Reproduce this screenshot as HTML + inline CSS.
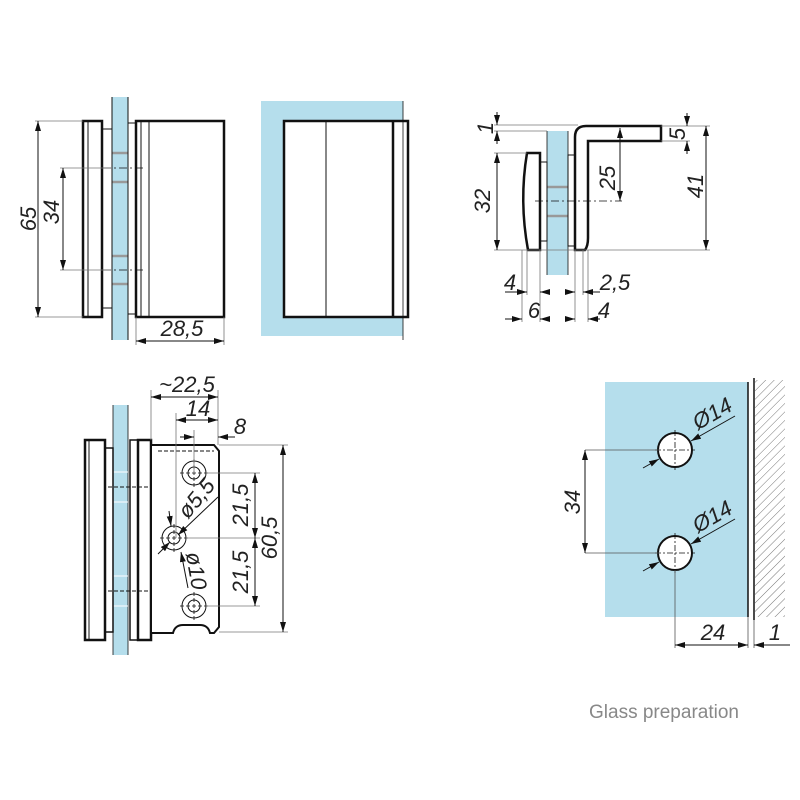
<!DOCTYPE html>
<html><head><meta charset="utf-8"><style>body{margin:0;background:#fff}svg{display:block}text{font-family:"Liberation Sans",sans-serif;font-style:italic;fill:#222}</style></head><body>
<svg width="800" height="800" viewBox="0 0 800 800" xmlns="http://www.w3.org/2000/svg">
<defs>
<marker id="a" viewBox="0 0 10 6" refX="10" refY="3" markerWidth="10" markerHeight="6" orient="auto-start-reverse" markerUnits="userSpaceOnUse"><path d="M0,0 L10,3 L0,6 z" fill="#111"/></marker>
<pattern id="h" width="6" height="6" patternUnits="userSpaceOnUse" patternTransform="rotate(45)"><line x1="0" y1="0" x2="0" y2="6" stroke="#777" stroke-width="1"/></pattern>
</defs>
<g fill="none" stroke="#111">
<rect x="112" y="97" width="16" height="243" fill="#b5deec" stroke="none"/>
<line x1="112" y1="97" x2="112" y2="340" stroke-width="1"/><line x1="128" y1="97" x2="128" y2="340" stroke-width="1"/>
<g stroke="#999" stroke-width="2.5"><line x1="110" y1="153" x2="130" y2="153"/><line x1="110" y1="182" x2="130" y2="182"/><line x1="110" y1="256" x2="130" y2="256"/><line x1="110" y1="284" x2="130" y2="284"/></g>
<rect x="102" y="129" width="10" height="179" fill="#fff" stroke-width="1"/>
<rect x="83" y="121" width="19" height="196" fill="#fff" stroke-width="2.5"/>
<line x1="88" y1="121" x2="88" y2="317" stroke-width="1"/>
<rect x="128" y="123" width="8" height="191" fill="#fff" stroke-width="1"/>
<rect x="136" y="121" width="88" height="196" fill="#fff" stroke-width="2.5"/>
<line x1="141" y1="121" x2="141" y2="317" stroke-width="1"/><line x1="149" y1="121" x2="149" y2="317" stroke-width="1"/>
<g stroke-width="0.8" stroke-dasharray="8,3,2,3"><line x1="103" y1="168" x2="143" y2="168"/><line x1="103" y1="270" x2="143" y2="270"/></g>
<g stroke="#777" stroke-width="0.8"><line x1="35" y1="121" x2="83" y2="121"/><line x1="35" y1="317" x2="83" y2="317"/><line x1="60" y1="168" x2="112" y2="168"/><line x1="60" y1="270" x2="112" y2="270"/><line x1="136" y1="317" x2="136" y2="345"/><line x1="224" y1="317" x2="224" y2="345"/></g>
<g stroke-width="1" marker-start="url(#a)" marker-end="url(#a)"><line x1="38" y1="121" x2="38" y2="317"/><line x1="63" y1="168" x2="63" y2="270"/><line x1="136" y1="341" x2="224" y2="341"/></g>
<rect x="261" y="101" width="142" height="235" fill="#b5deec" stroke="none"/>
<rect x="284" y="121" width="124" height="196" fill="#fff" stroke-width="2.5"/>
<line x1="326" y1="121" x2="326" y2="317" stroke-width="1"/><line x1="393" y1="121" x2="393" y2="317" stroke-width="2.5"/>
<line x1="403" y1="101" x2="403" y2="340" stroke-width="0.8"/>
<rect x="547" y="131" width="21" height="144" fill="#b5deec" stroke="none"/>
<line x1="547" y1="131" x2="547" y2="275" stroke-width="0.8"/><line x1="568" y1="131" x2="568" y2="275" stroke-width="0.8"/>
<g stroke="#999" stroke-width="2.5"><line x1="547" y1="187" x2="568" y2="187"/><line x1="547" y1="216" x2="568" y2="216"/></g>
<rect x="540" y="162" width="7" height="79" fill="#fff" stroke-width="1"/>
<path d="M527,153 L540,153 L540,250 L528,250 Q519,201 527,153 z" fill="#fff" stroke-width="2.5"/>
<rect x="568" y="155" width="7" height="91" fill="#fff" stroke-width="1"/>
<path d="M575,250 L575,137 Q575,126 586,126 L661,126 L661,141 L588,141 L588,238 Q588,246 585,250 z" fill="#fff" stroke-width="2.5"/>
<line x1="535" y1="201" x2="622" y2="201" stroke-width="0.8" stroke-dasharray="8,3,2,3"/>
<g stroke="#777" stroke-width="0.8"><line x1="494" y1="125" x2="578" y2="125"/><line x1="494" y1="131" x2="547" y2="131"/><line x1="494" y1="153" x2="527" y2="153"/><line x1="494" y1="250" x2="710" y2="250"/><line x1="661" y1="126" x2="710" y2="126"/><line x1="661" y1="141" x2="690" y2="141"/>
<line x1="522" y1="250" x2="522" y2="322"/><line x1="527" y1="250" x2="527" y2="295"/><line x1="540" y1="250" x2="540" y2="322"/><line x1="575" y1="250" x2="575" y2="322"/><line x1="583" y1="250" x2="583" y2="295"/><line x1="588" y1="250" x2="588" y2="322"/></g>
<g stroke-width="1"><line x1="497" y1="112" x2="497" y2="125" marker-end="url(#a)"/><line x1="497" y1="144" x2="497" y2="131" marker-end="url(#a)"/>
<line x1="687" y1="113" x2="687" y2="126" marker-end="url(#a)"/><line x1="687" y1="154" x2="687" y2="141" marker-end="url(#a)"/>
<line x1="497" y1="153" x2="497" y2="250" marker-start="url(#a)" marker-end="url(#a)"/>
<line x1="620" y1="128" x2="620" y2="201" marker-start="url(#a)" marker-end="url(#a)"/>
<line x1="706" y1="126" x2="706" y2="250" marker-start="url(#a)" marker-end="url(#a)"/>
<line x1="505" y1="292" x2="527" y2="292" marker-end="url(#a)"/><line x1="550" y1="292" x2="540" y2="292" marker-end="url(#a)"/>
<line x1="565" y1="292" x2="575" y2="292" marker-end="url(#a)"/><line x1="600" y1="292" x2="583" y2="292" marker-end="url(#a)"/>
<line x1="505" y1="319" x2="522" y2="319" marker-end="url(#a)"/><line x1="550" y1="319" x2="540" y2="319" marker-end="url(#a)"/>
<line x1="565" y1="319" x2="575" y2="319" marker-end="url(#a)"/><line x1="600" y1="319" x2="588" y2="319" marker-end="url(#a)"/></g>
<rect x="113" y="405" width="15" height="250" fill="#b5deec" stroke="none"/>
<line x1="113" y1="405" x2="113" y2="655" stroke-width="0.8"/><line x1="128" y1="405" x2="128" y2="655" stroke-width="0.8"/>
<g stroke="#fff" stroke-width="1"><line x1="113" y1="472" x2="128" y2="472"/><line x1="113" y1="502" x2="128" y2="502"/><line x1="113" y1="576" x2="128" y2="576"/><line x1="113" y1="606" x2="128" y2="606"/></g>
<rect x="105" y="448" width="8" height="184" fill="#fff" stroke-width="1.5"/>
<rect x="85" y="440" width="20" height="200" fill="#fff" stroke-width="2.5"/>
<line x1="89" y1="440" x2="89" y2="640" stroke-width="1"/>
<rect x="130" y="440" width="8" height="200" fill="#fff" stroke-width="1.5"/>
<rect x="138" y="440" width="13" height="200" fill="#fff" stroke-width="2.5"/>
<path d="M152,445 L214,445 L219,451 L219,627 L214,633 L210,633 Q208,625 200,625 L183,625 Q175,625 173,633 L152,633" fill="#fff" stroke-width="2"/>
<line x1="158" y1="451" x2="214" y2="451" stroke-width="1" stroke-dasharray="4,2"/>
<g stroke-width="1" stroke-dasharray="4,2"><line x1="108" y1="487" x2="150" y2="487"/><line x1="108" y1="591" x2="150" y2="591"/></g>
<g stroke-width="1"><circle cx="194" cy="473" r="12"/><circle cx="194" cy="473" r="6"/><circle cx="174" cy="538" r="12"/><circle cx="174" cy="538" r="6"/><circle cx="194" cy="606" r="12"/><circle cx="194" cy="606" r="6"/></g>
<g stroke-width="0.8" stroke-dasharray="4,2"><line x1="180" y1="473" x2="208" y2="473"/><line x1="194" y1="459" x2="194" y2="487"/><line x1="160" y1="538" x2="188" y2="538"/><line x1="174" y1="524" x2="174" y2="552"/><line x1="180" y1="606" x2="208" y2="606"/><line x1="194" y1="592" x2="194" y2="620"/></g>
<g stroke="#777" stroke-width="0.8"><line x1="151" y1="390" x2="151" y2="440"/><line x1="218" y1="390" x2="218" y2="445"/><line x1="176" y1="413" x2="176" y2="538"/><line x1="194" y1="430" x2="194" y2="473"/><line x1="206" y1="473" x2="260" y2="473"/><line x1="186" y1="538" x2="260" y2="538"/><line x1="206" y1="606" x2="260" y2="606"/><line x1="219" y1="445" x2="288" y2="445"/><line x1="219" y1="632" x2="288" y2="632"/></g>
<g stroke-width="1"><line x1="151" y1="397" x2="218" y2="397" marker-start="url(#a)" marker-end="url(#a)"/><line x1="176" y1="420" x2="218" y2="420" marker-start="url(#a)" marker-end="url(#a)"/>
<line x1="180" y1="437" x2="194" y2="437" marker-end="url(#a)"/><line x1="235" y1="437" x2="218" y2="437" marker-end="url(#a)"/>
<line x1="255" y1="473" x2="255" y2="538" marker-start="url(#a)" marker-end="url(#a)"/><line x1="255" y1="538" x2="255" y2="606" marker-start="url(#a)" marker-end="url(#a)"/>
<line x1="283" y1="445" x2="283" y2="632" marker-start="url(#a)" marker-end="url(#a)"/>
<line x1="158" y1="554" x2="170" y2="542" marker-end="url(#a)"/><line x1="218" y1="497" x2="178" y2="535" marker-end="url(#a)"/>
<line x1="188" y1="588" x2="181" y2="552" marker-end="url(#a)"/><line x1="169" y1="511" x2="171" y2="526" marker-end="url(#a)"/></g>
<rect x="605" y="382" width="143" height="235" fill="#b5deec" stroke="none"/>
<rect x="755" y="380" width="30" height="237" fill="url(#h)" stroke="none"/>
<line x1="748" y1="382" x2="748" y2="617" stroke-width="1.5"/><line x1="754" y1="378" x2="754" y2="620" stroke-width="1.5"/>
<circle cx="675" cy="450" r="17" fill="#fff" stroke-width="2"/><circle cx="675" cy="553" r="17" fill="#fff" stroke-width="2"/>
<g stroke-width="0.8" stroke-dasharray="6,2,2,2"><line x1="675" y1="430" x2="675" y2="470"/><line x1="655" y1="450" x2="695" y2="450"/><line x1="675" y1="533" x2="675" y2="573"/><line x1="655" y1="553" x2="695" y2="553"/></g>
<g stroke="#555" stroke-width="0.8"><line x1="585" y1="450" x2="660" y2="450"/><line x1="585" y1="553" x2="660" y2="553"/><line x1="675" y1="570" x2="675" y2="648"/><line x1="748" y1="617" x2="748" y2="648"/><line x1="754" y1="620" x2="754" y2="648"/></g>
<g stroke-width="1"><line x1="585" y1="450" x2="585" y2="553" marker-start="url(#a)" marker-end="url(#a)"/><line x1="675" y1="645" x2="748" y2="645" marker-start="url(#a)" marker-end="url(#a)"/><line x1="790" y1="645" x2="754" y2="645" marker-end="url(#a)"/>
<line x1="643" y1="468" x2="659" y2="459" marker-end="url(#a)"/><line x1="735" y1="416" x2="691" y2="441" marker-end="url(#a)"/>
<line x1="643" y1="571" x2="659" y2="562" marker-end="url(#a)"/><line x1="735" y1="519" x2="691" y2="544" marker-end="url(#a)"/></g>
</g>
<g font-size="22">
<text transform="translate(36,219) rotate(-90)" text-anchor="middle">65</text>
<text transform="translate(59,212) rotate(-90)" text-anchor="middle">34</text>
<text x="182" y="336" text-anchor="middle">28,5</text>
<text transform="translate(493,128) rotate(-90)" text-anchor="middle">1</text>
<text transform="translate(490,201) rotate(-90)" text-anchor="middle">32</text>
<text transform="translate(615,178) rotate(-90)" text-anchor="middle">25</text>
<text transform="translate(685,134) rotate(-90)" text-anchor="middle">5</text>
<text transform="translate(703,186) rotate(-90)" text-anchor="middle">41</text>
<text x="510" y="290" text-anchor="middle">4</text>
<text x="615" y="290" text-anchor="middle">2,5</text>
<text x="534" y="318" text-anchor="middle">6</text>
<text x="604" y="318" text-anchor="middle">4</text>
<text x="187" y="392" text-anchor="middle">~22,5</text>
<text x="198" y="416" text-anchor="middle">14</text>
<text x="240" y="434" text-anchor="middle">8</text>
<text transform="translate(248,505) rotate(-90)" text-anchor="middle">21,5</text>
<text transform="translate(248,572) rotate(-90)" text-anchor="middle">21,5</text>
<text transform="translate(277,538) rotate(-90)" text-anchor="middle">60,5</text>
<text transform="translate(202,503) rotate(-50)" text-anchor="middle">ø5,5</text>
<text transform="translate(189,572) rotate(80)" text-anchor="middle">ø10</text>
<text transform="translate(580,502) rotate(-90)" text-anchor="middle">34</text>
<text transform="translate(716,420) rotate(-30)" text-anchor="middle">Ø14</text>
<text transform="translate(716,523) rotate(-30)" text-anchor="middle">Ø14</text>
<text x="713" y="640" text-anchor="middle">24</text>
<text x="775" y="640" text-anchor="middle">1</text>
</g>
<text x="589" y="718" font-size="19" style="font-style:normal;fill:#888">Glass preparation</text>
</svg>
</body></html>
